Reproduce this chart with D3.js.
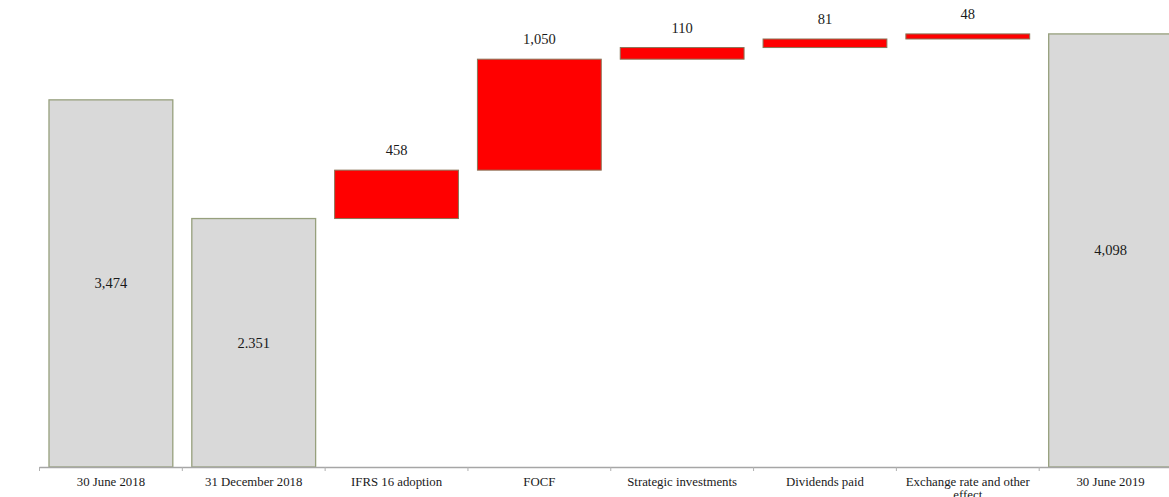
<!DOCTYPE html>
<html><head><meta charset="utf-8">
<script src="https://cdn.jsdelivr.net/npm/d3@7/dist/d3.min.js"></script>
<style>
html,body{margin:0;padding:0;background:#fff;overflow:hidden;}
text{font-family:"Liberation Serif","DejaVu Serif",serif;fill:#1a1a1a;}
</style></head>
<body>
<svg id="c" width="1169" height="497"></svg>
<script>
const categories = ["30 June 2018","31 December 2018","IFRS 16 adoption","FOCF","Strategic investments","Dividends paid","Exchange rate and other effect","30 June 2019"];
const values = [3474, 2351, 458, 1050, 110, 81, 48, 4098];
const kinds = ["total","total","delta","delta","delta","delta","delta","total"];
const valueLabels = ["3,474","2.351","458","1,050","110","81","48","4,098"];

const svg = d3.select("#c");
const x = d3.scaleBand().domain(categories).range([39.5, 1182]).paddingInner(0.133).paddingOuter(0.0665);
const y = d3.scaleLinear().domain([0, 4400]).range([467, 2]);

let running = 0;
const rows = categories.map((c,i)=>{
  let lo, hi;
  if (kinds[i]==="total"){ lo=0; hi=values[i]; running=values[i]; }
  else { lo=running; hi=running+values[i]; running=hi; }
  return {c, lo, hi, kind:kinds[i], label:valueLabels[i]};
});

svg.selectAll("rect.bar").data(rows).enter().append("rect")
  .attr("x", d=>x(d.c)).attr("width", x.bandwidth())
  .attr("y", d=>y(d.hi)).attr("height", d=>y(d.lo)-y(d.hi))
  .attr("fill", d=>d.kind==="total"?"#d9d9d9":"#ff0000")
  .attr("stroke", d=>d.kind==="total"?"#97a07d":"#8a7558")
  .attr("stroke-width", d=>d.kind==="total"?1.3:1);

svg.append("line").attr("x1",39.5).attr("x2",1169).attr("y1",y(0)+0.5).attr("y2",y(0)+0.5)
  .attr("stroke","#a6a6a6").attr("stroke-width",1.3);
const step = x.step();
d3.range(categories.length).forEach(i=>{
  const tx = 39.5 + i*step;
  svg.append("line").attr("x1",tx).attr("x2",tx).attr("y1",y(0)).attr("y2",y(0)+4)
    .attr("stroke","#b0b0b0");
});

svg.selectAll("text.val").data(rows).enter().append("text")
  .attr("x", d=>x(d.c)+x.bandwidth()/2)
  .attr("y", d=>d.kind==="total" ? (y(d.hi)+y(d.lo))/2 : y(d.hi)-20)
  .attr("text-anchor","middle").attr("dominant-baseline","central")
  .attr("font-size",14.5).text(d=>d.label);

categories.forEach(c=>{
  const cx = x(c)+x.bandwidth()/2;
  const t = svg.append("text").attr("x",cx).attr("y",486).attr("text-anchor","middle").attr("font-size",12.8);
  if (c.length>24){
    const words=c.split(" ");
    const first = words.slice(0,-1).join(" "), second = words[words.length-1];
    t.append("tspan").attr("x",cx).text(first);
    t.append("tspan").attr("x",cx).attr("dy",13).text(second);
  } else t.text(c);
});
</script>
</body></html>
